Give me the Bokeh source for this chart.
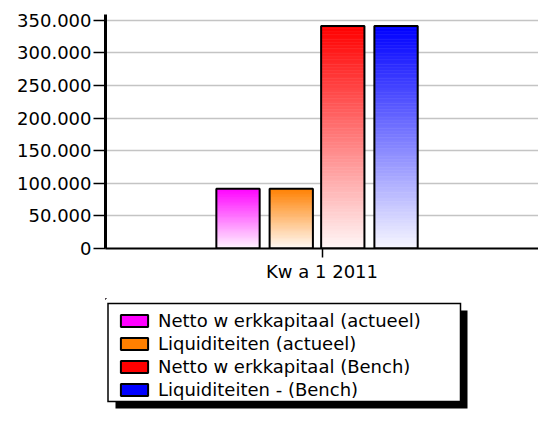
from bokeh.plotting import figure
from bokeh.models import (FactorRange, Range1d, FixedTicker, Legend, LegendItem,
                          ColumnDataSource, BoxAnnotation)
from bokeh.transform import dodge
from bokeh.layouts import column
from bokeh.embed import file_html
from bokeh.resources import INLINE

# ---------------- data ----------------
category = "Kw a 1 2011"
series = ["Netto w erkkapitaal (actueel)", "Liquiditeiten (actueel)",
          "Netto w erkkapitaal (Bench)", "Liquiditeiten - (Bench)"]
values = [91500, 91500, 341500, 341500]
colors = [(255, 0, 255), (255, 128, 0), (255, 0, 0), (0, 0, 255)]
y_ticks = [0, 50000, 100000, 150000, 200000, 250000, 300000, 350000]
y_tick_labels = ["0", "50.000", "100.000", "150.000", "200.000",
                 "250.000", "300.000", "350.000"]

# ---------------- style ----------------
FONT = "DejaVu Sans"
FS = "18px"
LEG_FS = "18px"
offsets = [-0.194, -0.071, 0.048, 0.171]
BAR_W = 0.1
N_SLICES = 80


def hexc(rgb):
    return "#%02x%02x%02x" % tuple(int(round(c)) for c in rgb)


def mix(rgb, t):
    # t=1 -> full colour, t=0 -> white
    return hexc([255 + (c - 255) * t for c in rgb])


p = figure(x_range=FactorRange(factors=[category], range_padding=0),
           y_range=Range1d(0, 359000), width=538, height=286,
           output_backend="svg", toolbar_location=None,
           min_border_left=99, min_border_top=14, min_border_right=0,
           min_border_bottom=38, outline_line_color=None)

for val, rgb, off in zip(values, colors, offsets):
    bottoms = [val * k / N_SLICES for k in range(N_SLICES)]
    tops = [val * (k + 1) / N_SLICES for k in range(N_SLICES)]
    cols = [mix(rgb, 0.03 + 0.97 * (k + 0.5) / N_SLICES) for k in range(N_SLICES)]
    src = ColumnDataSource(dict(x=[category] * N_SLICES, bottom=bottoms,
                                top=tops, color=cols))
    p.vbar(x=dodge("x", off, range=p.x_range), bottom="bottom", top="top",
           width=BAR_W, fill_color="color", line_color="color",
           line_width=0.6, source=src)
    osrc = ColumnDataSource(dict(x=[category], top=[val]))
    p.vbar(x=dodge("x", off, range=p.x_range), top="top", width=BAR_W,
           fill_color=None, line_color="black", line_width=2, source=osrc)

p.xgrid.grid_line_color = None
p.ygrid.grid_line_color = "#c4c4c4"
p.ygrid.grid_line_width = 1.5

p.yaxis.ticker = FixedTicker(ticks=y_ticks)
p.yaxis.major_label_overrides = {t: l for t, l in zip(y_ticks, y_tick_labels)}
p.yaxis.axis_line_width = 3
p.yaxis.axis_line_color = "black"
p.yaxis.major_tick_out = 12
p.yaxis.major_tick_in = 0
p.yaxis.major_tick_line_width = 1.5
p.yaxis.minor_tick_line_color = None
p.yaxis.major_label_standoff = 2
p.yaxis.major_label_text_font = FONT
p.yaxis.major_label_text_font_size = FS
p.yaxis.major_label_text_color = "black"

p.xaxis.axis_line_width = 2
p.xaxis.axis_line_color = "black"
p.xaxis.major_tick_out = 9
p.xaxis.major_tick_in = 0
p.xaxis.major_tick_line_width = 1.5
p.xaxis.major_label_standoff = 3
p.xaxis.major_label_text_font = FONT
p.xaxis.major_label_text_font_size = FS
p.xaxis.major_label_text_color = "black"

# ---------------- legend panel ----------------
lg = figure(width=538, height=140, x_range=Range1d(0, 433),
            y_range=Range1d(128, 0), output_backend="svg",
            toolbar_location=None, min_border_left=105, min_border_top=12,
            min_border_right=0, min_border_bottom=0,
            x_axis_type=None, y_axis_type=None, outline_line_color=None,
            background_fill_color="white", border_fill_color="white")
lg.grid.visible = False
lg.axis.visible = False

# shadow, border and white body of the legend box (fills only)
lg.add_layout(BoxAnnotation(left=10, right=362, top=12, bottom=110,
                            fill_color="black", fill_alpha=1,
                            line_color=None))
lg.add_layout(BoxAnnotation(left=1.75, right=355.75, top=4.25, bottom=103.75,
                            fill_color="black", fill_alpha=1,
                            line_color=None))
lg.add_layout(BoxAnnotation(left=3.25, right=354.25, top=5.75, bottom=102.25,
                            fill_color="white", fill_alpha=1,
                            line_color=None))

items = []
for name, rgb in zip(series, colors):
    # swatch-only renderer, its single bar lies outside the visible range
    r = lg.vbar(x=[-500], top=[-500], bottom=[-510], width=1,
                fill_color=hexc(rgb), line_color="black", line_width=2)
    items.append(LegendItem(label=name, renderers=[r]))

legend = Legend(items=items, location="top_left", margin=12, padding=0,
                spacing=2, glyph_width=34, glyph_height=15,
                label_standoff=7, label_height=15,
                label_text_font=FONT, label_text_font_size=LEG_FS,
                label_text_color="black",
                background_fill_alpha=0, border_line_alpha=0)
lg.add_layout(legend)

layout = column(p, lg, spacing=0)
open("out.html", "w").write(file_html(layout, INLINE))
